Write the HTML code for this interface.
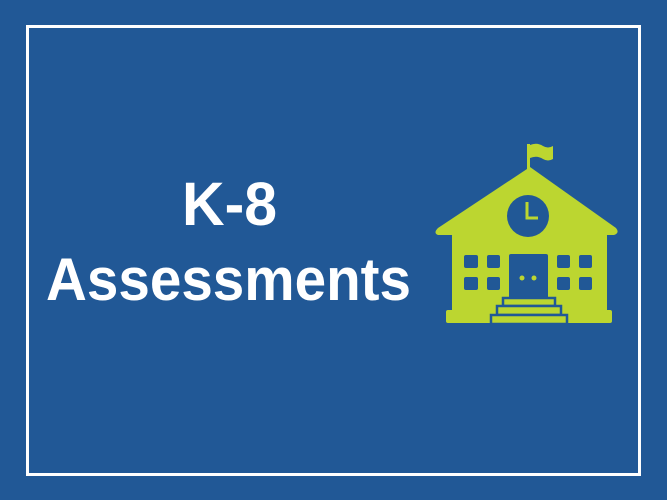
<!DOCTYPE html>
<html><head><meta charset="utf-8"><style>
html,body{margin:0;padding:0;background:#215896;}
svg{display:block}
</style></head><body>
<svg width="667" height="500" viewBox="0 0 667 500">
<rect x="0" y="0" width="667" height="500" fill="#215896"/>
<rect x="27.5" y="26.5" width="612" height="448" fill="none" stroke="#fff" stroke-width="3"/>
<text x="182" y="225" textLength="95" lengthAdjust="spacingAndGlyphs" font-family="Liberation Sans, sans-serif" font-weight="bold" font-size="61" fill="#fff">K-8</text>
<text x="46" y="300" textLength="365" lengthAdjust="spacingAndGlyphs" font-family="Liberation Sans, sans-serif" font-weight="bold" font-size="60" fill="#fff">Assessments</text>
<g fill="#bcd630">
  <rect x="527" y="144" width="3" height="26"/>
  <path d="M530 145 Q537 142 543 146 Q548 149 553 146 L553 159 Q548 162 543 159 Q537 155 530 158 Z"/>
  <path d="M530 167 L616 228 Q620 233 614 235 L438 235 Q433 233 438 228 Z"/>
  <rect x="452" y="232" width="155" height="82"/>
  <rect x="446" y="310" width="166" height="13" rx="2"/>
  <circle cx="528" cy="216" r="21" fill="#215896"/>
  <path d="M527 202 L527 218 L538 218" fill="none" stroke="#bcd630" stroke-width="3"/>
  <g fill="#215896">
    <rect x="464" y="255" width="14" height="13" rx="2"/><rect x="487" y="255" width="13" height="13" rx="2"/>
    <rect x="464" y="277" width="14" height="13" rx="2"/><rect x="487" y="277" width="13" height="13" rx="2"/>
    <rect x="557" y="255" width="13" height="13" rx="2"/><rect x="579" y="255" width="13" height="13" rx="2"/>
    <rect x="557" y="277" width="13" height="13" rx="2"/><rect x="579" y="277" width="13" height="13" rx="2"/>
  </g>
  <rect x="509" y="254" width="39" height="48" rx="2" fill="#215896"/>
  <circle cx="522" cy="278" r="2.5"/>
  <circle cx="534" cy="278" r="2.5"/>
  <g stroke="#215896" stroke-width="2.5">
    <rect x="503" y="298" width="52" height="8"/>
    <rect x="497" y="306" width="64" height="9"/>
    <rect x="491" y="315" width="76" height="9"/>
  </g>
</g>
</svg>
</body></html>
